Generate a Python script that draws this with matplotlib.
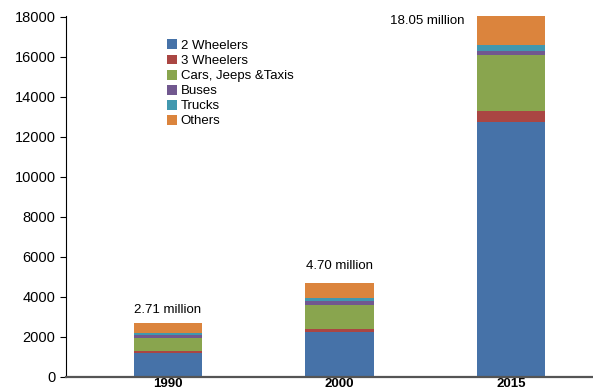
import numpy as np
import matplotlib.pyplot as plt

plt.rcParams['font.family'] = ['Liberation Sans', 'DejaVu Sans']

years = ['1990', '2000', '2015']
categories = ['2 Wheelers', '3 Wheelers', 'Cars, Jeeps &Taxis', 'Buses', 'Trucks', 'Others']
two_wheelers = [1180, 2230, 12750]
three_wheelers = [120, 150, 550]
cars = [640, 1210, 2790]
buses = [160, 200, 200]
trucks = [100, 140, 300]
others = [510, 770, 1460]
totals_label = ['2.71 million', '4.70 million', '18.05 million']

series = [two_wheelers, three_wheelers, cars, buses, trucks, others]
colors = ['#4672A8', '#AA4643', '#89A54E', '#71588F', '#4198AF', '#DB843D']

fig = plt.figure(figsize=(5.93, 3.91), dpi=100)
ax = fig.add_axes([66 / 593, 14 / 391, 527 / 593, 361 / 391])

x = np.arange(len(years))
bottom = np.zeros(len(years))
for vals, name, col in zip(series, categories, colors):
    ax.bar(x, vals, 0.397, bottom=bottom, color=col, label=name, linewidth=0)
    bottom += np.array(vals)

# total labels above each stack (the 2015 one sits beside the bar)
offsets = [(0, 650), (0, 850), (-0.49, -260)]
for i, (lab, (dx, dy)) in enumerate(zip(totals_label, offsets)):
    ax.text(x[i] + dx, bottom[i] + dy, lab, ha='center', va='center', fontsize=9.5)

ax.set_xlim(-0.595, 2.478)
ax.set_ylim(0, 18050)
ax.set_yticks(range(0, 18001, 2000))
ax.set_xticks(x)
ax.set_xticklabels(years, fontweight='bold', fontsize=9.5)
ax.tick_params(axis='x', length=0, pad=0.5)
ax.tick_params(axis='y', length=4, width=0.8, labelsize=10.5, direction='out')

for side in ['top', 'right']:
    ax.spines[side].set_visible(False)
ax.spines['bottom'].set_color('#555555')
ax.spines['bottom'].set_linewidth(1.6)
ax.spines['left'].set_linewidth(0.8)

ax.legend(loc='upper left', bbox_to_anchor=(0.192, 0.935), frameon=False, fontsize=9.5,
          handlelength=0.78, handleheight=0.78, handletextpad=0.25, labelspacing=0.19,
          borderaxespad=0, borderpad=0)

fig.savefig('out.png', dpi=100)
